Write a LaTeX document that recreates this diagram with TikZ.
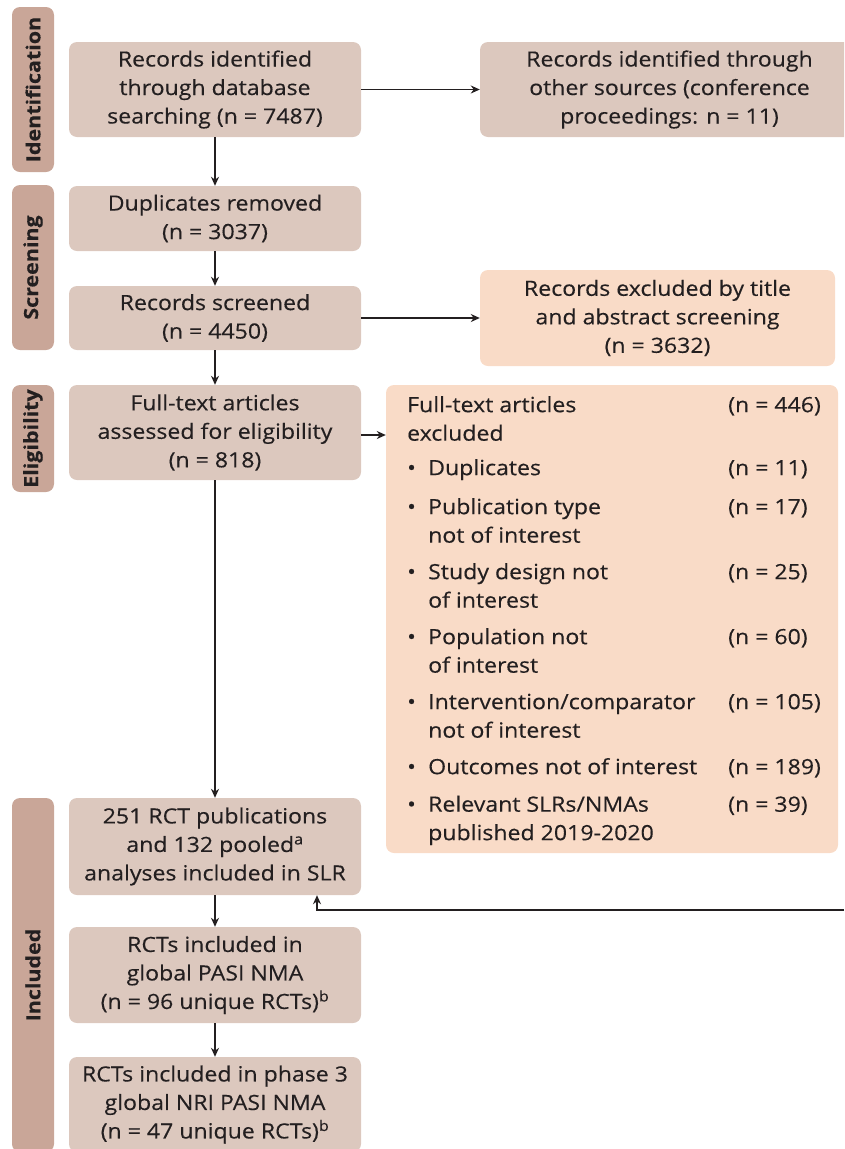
\documentclass[tikz,border=0pt]{standalone}
\usepackage{fontspec}
\setmainfont[FakeStretch=1.1,FakeBold=0.3]{Open Sans}
\usetikzlibrary{arrows.meta}
\definecolor{boitecol}{RGB}{220,200,190}
\definecolor{bandcol}{RGB}{201,166,152}
\definecolor{pechecol}{RGB}{249,219,199}
\definecolor{texte}{RGB}{35,31,32}
\newcommand{\ecart}[1][8pt]{\\\noalign{\vskip #1}}
\tikzset{
  boite/.style={fill=boitecol, rounded corners=8pt, align=center, inner sep=0pt,
    minimum width=292pt, minimum height=95pt},
  exclu/.style={boite, fill=pechecol},
  bandeau/.style={fill=bandcol, rounded corners=8pt, rotate=90, inner sep=0pt,
    minimum height=42pt, font=\fontsize{19.5}{25}\selectfont\bfseries},
  fleche/.style={draw=texte, line width=1.4pt, -{Stealth[length=9pt,width=8pt]}}
}
\begin{document}
\begin{tikzpicture}[x=1pt,y=-1pt,font=\fontsize{21}{28.5}\selectfont,text=texte]
  \useasboundingbox (0,0) rectangle (844,1149);
  \clip (0,0) rectangle (844,1149);
  % Bandeaux
  \node[bandeau, minimum width=165pt] (identif) at (33,89.5) {Identification};
  \node[bandeau, minimum width=165pt] (screen) at (33,267.5) {Screening};
  \node[bandeau, minimum width=107pt] (elig) at (33,438.5) {Eligibility};
  \node[bandeau, minimum width=354pt] (incl) at (33,975) {Included};
  % Boites de gauche
  \node[boite] (rec) at (215,89.5) {Records identified\\through database\\searching (n = 7487)};
  \node[boite, minimum height=65pt] (dup) at (215,218.5) {Duplicates removed\\(n = 3037)};
  \node[boite, minimum height=64pt] (scr) at (215,318) {Records screened\\(n = 4450)};
  \node[boite] (full) at (215,432.5) {Full-text articles\\assessed for eligibility\\(n = 818)};
  \node[boite, minimum height=97pt] (rct) at (215,846.5) {251 RCT publications\\and 132 pooled\textsuperscript{a}\\analyses included in SLR};
  \node[boite, minimum height=96pt] (pasi) at (215,975) {RCTs included in\\global PASI NMA\\(n = 96 unique RCTs)\textsuperscript{b}};
  \node[boite] (nri) at (215,1104.5) {RCTs included in phase 3\\global NRI PASI NMA\\(n = 47 unique RCTs)\textsuperscript{b}};
  % Boites de droite
  \node[boite, minimum width=379pt] (other) at (669.5,89.5) {Records identified through\\other sources (conference\\proceedings: n = 11)};
  \node[exclu, minimum width=355pt, minimum height=96pt] (excl) at (657.5,318) {Records excluded by title\\and abstract screening\\(n = 3632)};
  \node[exclu, minimum width=452pt, minimum height=468pt] (fexcl) at (612,619) {};
  \node[anchor=north west, inner sep=0pt] (fexcltxt) at (407,392) {%
    \begin{tabular}{@{}p{21pt}@{}p{300pt}@{}l@{}}
      \multicolumn{2}{@{}p{321pt}@{}}{Full-text articles\newline excluded} & (n = 446)\ecart[6pt]
      \textbullet & Duplicates & (n = 11)\ecart[10.5pt]
      \textbullet & Publication type\newline not of interest & (n = 17)\ecart
      \textbullet & Study design not\newline of interest & (n = 25)\ecart
      \textbullet & Population not\newline of interest & (n = 60)\ecart
      \textbullet & Intervention/comparator\newline not of interest & (n = 105)\ecart
      \textbullet & Outcomes not of interest & (n = 189)\ecart[9pt]
      \textbullet & Relevant SLRs/NMAs\newline published 2019-2020 & (n = 39)
    \end{tabular}};
  % Fleches
  \draw[fleche] (rec) -- (dup);
  \draw[fleche] (dup) -- (scr);
  \draw[fleche] (scr) -- (full);
  \draw[fleche] (full) -- (rct);
  \draw[fleche] (rct) -- (pasi);
  \draw[fleche] (pasi) -- (nri);
  \draw[fleche] (rec) -- (other);
  \draw[fleche] (scr) -- (excl);
  \draw[fleche] (full.east) ++(0,2.5) coordinate (fe) -- (fe -| fexcl.west);
  % Retour
  \coordinate (ret) at (844,910);
  \coordinate (retx) at (317,910);
  \draw[fleche] (ret) -- (retx) -- (rct.south -| retx);
\end{tikzpicture}
\end{document}
